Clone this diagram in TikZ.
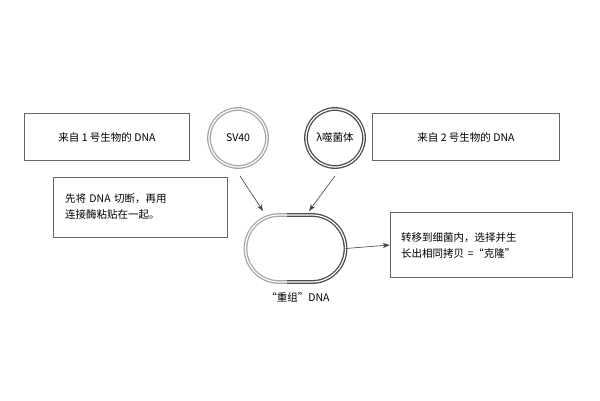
\documentclass[tikz,border=0pt]{standalone}
\usepackage{fontspec}
\setmainfont{Noto Sans CJK SC}
\usetikzlibrary{arrows.meta}
\begin{document}
\begin{tikzpicture}[x=1pt,y=-1pt,
  box/.style={draw=black!60,line width=0.6pt,align=left,font=\fontsize{10.5}{16}\selectfont,inner sep=0pt},
  ring/.style={double=white,double distance=1.2pt,line width=1.3pt},
  arr/.style={draw=black!75,line width=0.6pt,-{Stealth[length=7pt,width=5pt]}},
  lbl/.style={font=\fontsize{10.5}{12}\selectfont}]
\useasboundingbox (0,0) rectangle (600,400);
\node[box,minimum width=165pt,minimum height=47pt,align=center] (b1) at (107,137) {来自 1 号生物的 DNA};
\node[box,minimum width=187pt,minimum height=47pt,align=center] (b2) at (466,137) {来自 2 号生物的 DNA};
\node[box,minimum width=174pt,minimum height=60pt,text width=150pt] (b3) at (140,207) {先将 DNA 切断，再用\\连接酶粘贴在一起。};
\node[box,minimum width=182pt,minimum height=65pt,text width=160pt] (b4) at (481,245) {转移到细菌内，选择并生\\长出相同拷贝 =“克隆”};
\node[circle,minimum size=58pt,ring,draw=black!35,lbl] (sv) at (238,138) {SV40};
\node[circle,minimum size=58pt,ring,draw=black!70,lbl] (la) at (335,138) {λ噬菌体};
\node[minimum width=100pt,minimum height=67pt,inner sep=0pt] (dna) at (295.5,248.5) {};
\draw[ring,draw=black!35] (287,282) -- (279,282) arc[start angle=90,end angle=270,radius=33.5] -- (287,215);
\draw[ring,draw=black!70] (287,215) -- (312,215) arc[start angle=-90,end angle=90,radius=33.5] -- (287,282);
\node[lbl] (lab) at (298,297) {“重组”DNA};
\coordinate (s1) at (240,176);
\coordinate (s2) at (335,176);
\coordinate (t1) at (263,211);
\coordinate (t2) at (309,211);
\draw[arr] (s1) -- (t1);
\draw[arr] (s2) -- (t2);
\draw[arr] (dna.east) -- (b4.west);
\end{tikzpicture}
\end{document}
